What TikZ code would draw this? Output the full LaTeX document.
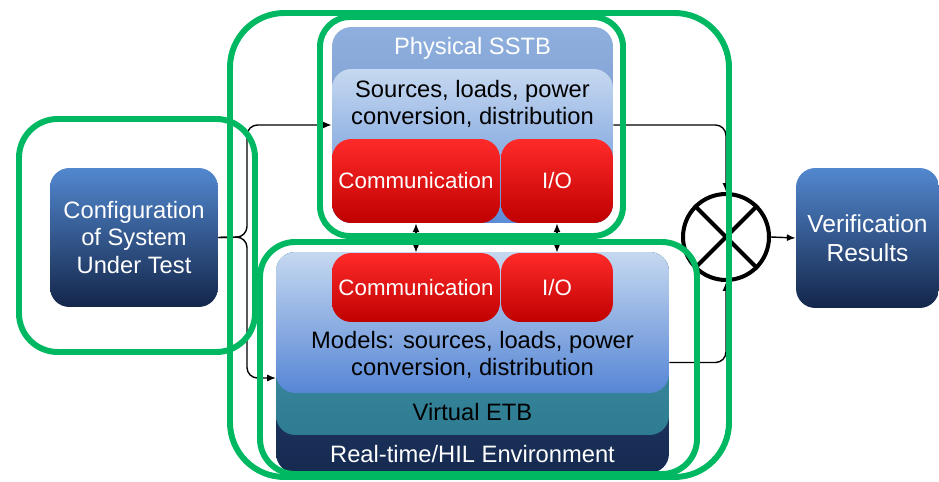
\documentclass[tikz,border=0pt]{standalone}
\usepackage{fontspec}
\setmainfont{Liberation Sans}
\usetikzlibrary{arrows.meta}
\definecolor{frame}{RGB}{0,184,98}
\definecolor{navytop}{RGB}{82,136,207}
\definecolor{navybot}{RGB}{20,38,74}
\definecolor{redtop}{RGB}{255,42,42}
\definecolor{redbot}{RGB}{192,0,0}
\begin{document}
\begin{tikzpicture}[x=0.02cm,y=-0.02cm,>={Latex[length=5pt,width=4pt]},
  font=\fontsize{13.5}{15.8}\selectfont]
\tikzset{box/.style={rectangle,rounded corners=11pt,inner sep=0pt},
  darkbox/.style={box,top color=navytop,bottom color=navybot,text=white,align=center},
  redbox/.style={box,top color=redtop,bottom color=redbot,text=white,
    minimum height=1.68cm,font=\fontsize{12.7}{15}\selectfont},
  lbl/.style={align=center,inner sep=0pt},
  conn/.style={line width=0.8pt,rounded corners=6pt},
  greenframe/.style={draw=frame,line width=3.4pt}}
\useasboundingbox (0,0) rectangle (939,482);
% outer blocks
\node[darkbox,minimum width=3.36cm,minimum height=2.78cm] (cfg) at (134,237.5)
  {Configuration\\of System\\Under Test};
\node[darkbox,minimum width=2.86cm,minimum height=2.8cm,font=\fontsize{14}{16.4}\selectfont] (ver) at (867.5,238)
  {Verification\\Results};
\node[circle,draw,line width=2.3pt,minimum size=1.72cm] (mix) at (726,237) {};
\draw[line width=2.3pt] (mix.north west) -- (mix.south east)
  (mix.north east) -- (mix.south west);
%%% physical testbed
\node[box,top color={rgb,255:red,143;green,176;blue,222},bottom color={rgb,255:red,106;green,140;blue,196},
  minimum width=5.62cm,minimum height=3.92cm] (phys) at (472.5,125) {};
\node[lbl,text=white] (physlbl) at (472.5,48) {Physical SSTB};
\node[box,top color={rgb,255:red,198;green,216;blue,240},bottom color={rgb,255:red,92;green,140;blue,214},
  minimum width=5.62cm,minimum height=3.08cm] (physsrc) at (472.5,146) {};
\node[lbl] (srclbl) at (472.5,104) {Sources, loads, power\\conversion, distribution};
\node[redbox,minimum width=3.36cm] (physcomm) at (416,181) {Communication};
\node[redbox,minimum width=2.24cm] (physio) at (557,181) {I/O};
%%% virtual testbed
\node[box,top color={rgb,255:red,44;green,74;blue,122},bottom color={rgb,255:red,22;green,42;blue,80},
  minimum width=7.86cm,minimum height=4.42cm] (hil) at (472.5,362.5) {};
\node[box,top color={rgb,255:red,74;green,150;blue,168},bottom color={rgb,255:red,46;green,124;blue,146},
  minimum width=7.86cm,minimum height=3.66cm] (virt) at (472.5,343.5) {};
\node[box,top color={rgb,255:red,198;green,216;blue,240},bottom color={rgb,255:red,86;green,134;blue,213},
  minimum width=7.86cm,minimum height=2.82cm] (models) at (472.5,322.5) {};
\node[redbox,minimum width=3.36cm,minimum height=1.38cm] (etbcomm) at (416,287.5) {Communication};
\node[redbox,minimum width=2.24cm,minimum height=1.38cm] (etbio) at (557,287.5) {I/O};
\node[lbl] (modlbl) at (472.5,355) {Models: sources, loads, power\\conversion, distribution};
\node[lbl] (virtlbl) at (472.5,412) {Virtual ETB};
\node[lbl,text=white] (hillbl) at (472.5,454) {Real-time/HIL Environment};
%%% connectors
\coordinate (split) at (247,237);
\coordinate (vin) at (276,378);
\draw[conn,->] (cfg.east) -- (split) |- (phys.west);
\draw[conn,->] (cfg.east) -- (split) |- (vin);
\draw[conn,->] (phys.east) -| (mix.north);
\draw[conn,->] (hil.east) -| (mix.south);
\draw[conn,->] (mix.east) -- (ver.west);
\draw[conn,<->] (physcomm.south) -- (etbcomm.north);
\draw[conn,<->] (physio.south) -- (etbio.north);
% green frames
\draw[greenframe,rounded corners=31pt] (230,13) rectangle (729,477);
\draw[greenframe,rounded corners=22pt] (19,119) rectangle (255,352);
\draw[greenframe,rounded corners=17pt] (320,17) rectangle (623,236);
\draw[greenframe,rounded corners=20pt] (260,242) rectangle (697,474);
\end{tikzpicture}
\end{document}
